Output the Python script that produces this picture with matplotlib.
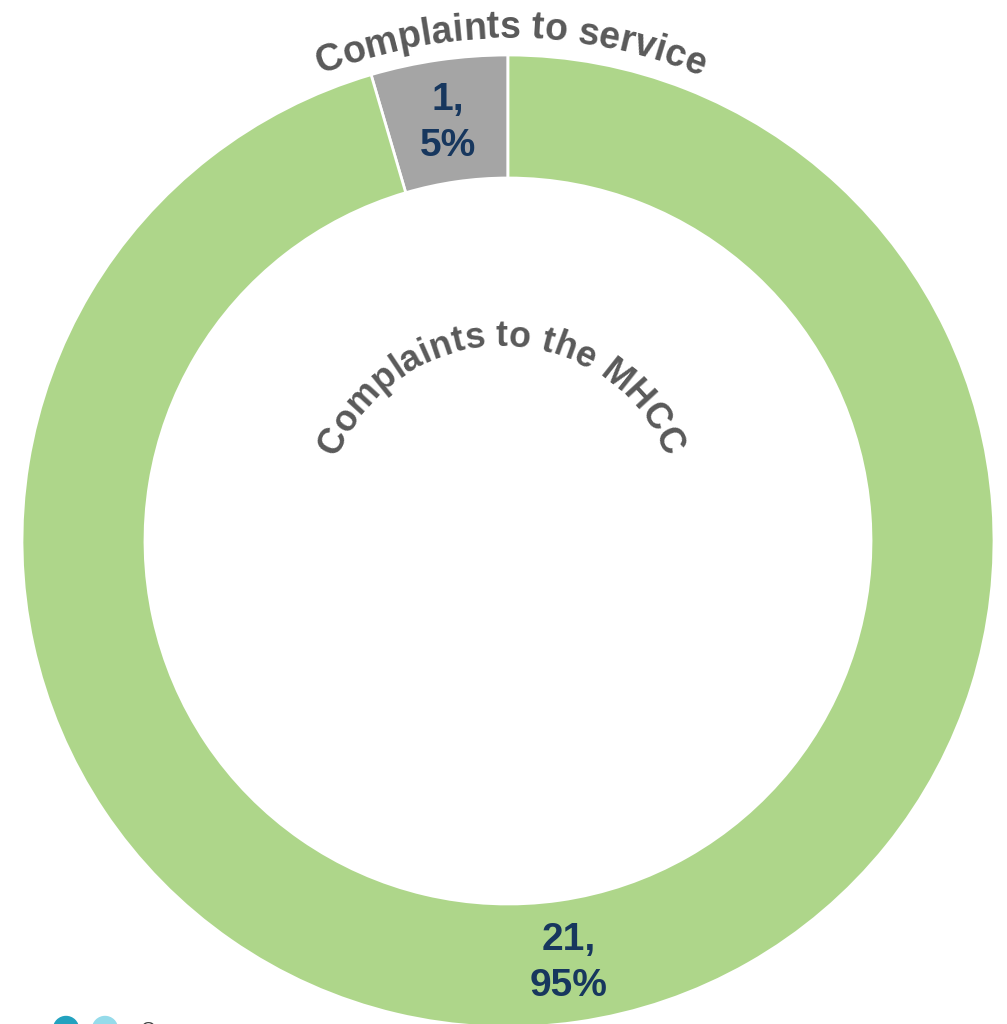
import numpy as np
import matplotlib
matplotlib.use("Agg")
import matplotlib.pyplot as plt
from matplotlib import font_manager
from matplotlib.font_manager import FontProperties
from matplotlib.ft2font import FT2Font

# data
categories = ["Complaints to service", "Complaints to the MHCC"]
counts = [1, 21]
pcts = [5, 95]
slice_colors = ["#A5A5A5", "#AED68A"]
legend_colors = ["#22A2BF", "#95DBEA"]

W, H = 1007, 1024
fig = plt.figure(figsize=(W / 100, H / 100), dpi=100)
ax = fig.add_axes([0, 0, 1, 1])

cx, cy = 508, H - 541
r_out, r_in = 486, 363

wedges, _ = ax.pie(counts, colors=slice_colors, startangle=90, counterclock=True,
                   radius=r_out, center=(cx, cy), frame=True,
                   wedgeprops=dict(width=r_out - r_in, edgecolor="white", linewidth=2))
ax.set_xlim(0, W)
ax.set_ylim(0, H)
ax.set_aspect("auto")
ax.axis("off")

label_font = FontProperties(family="Liberation Sans", weight="bold", size=28)
r_lab = (r_out + r_in) / 2
for w, n, p in zip(wedges, counts, pcts):
    ang = np.deg2rad((w.theta1 + w.theta2) / 2)
    x = cx + r_lab * np.cos(ang)
    y = cy + r_lab * np.sin(ang) - 2
    ax.text(x, y, f"{n},\n{p}%", ha="center", va="center", color="#17375E",
            fontproperties=label_font, linespacing=1.35)

# text along an arc
fpath = font_manager.findfont(FontProperties(family="Liberation Sans", weight="bold"))


def arc_text(s, ccx, ccy, r_base, size, shift=0.0, color="#595959"):
    ft = FT2Font(fpath)
    ft.set_size(size, 100)
    adv = []
    for ch in s:
        g = ft.load_char(ord(ch))
        adv.append(g.linearHoriAdvance / 65536)
    total = sum(adv)
    pos = -total / 2 + shift
    fp = FontProperties(family="Liberation Sans", weight="bold", size=size)
    for ch, a in zip(s, adv):
        mid = pos + a / 2
        phi = mid / r_base
        x = ccx + r_base * np.sin(phi)
        y = ccy + r_base * np.cos(phi)
        ax.text(x, y, ch, ha="center", va="baseline", rotation=-np.rad2deg(phi),
                rotation_mode="anchor", fontproperties=fp, color=color)
        pos += a


arc_text(categories[0], cx, cy, 503, 27, shift=3)
arc_text(categories[1], 501, H - 522, 176, 25.8)

# cut-off legend at bottom
for i, c in enumerate(legend_colors):
    ax.add_patch(plt.Circle((66 + i * 39, H - 1029), 12.5, color=c, clip_on=False))
ax.text(141, H - 1035, "C", fontsize=14, color="#404040", family="Liberation Sans",
        ha="left", va="baseline")

fig.savefig("out.png", dpi=100)
